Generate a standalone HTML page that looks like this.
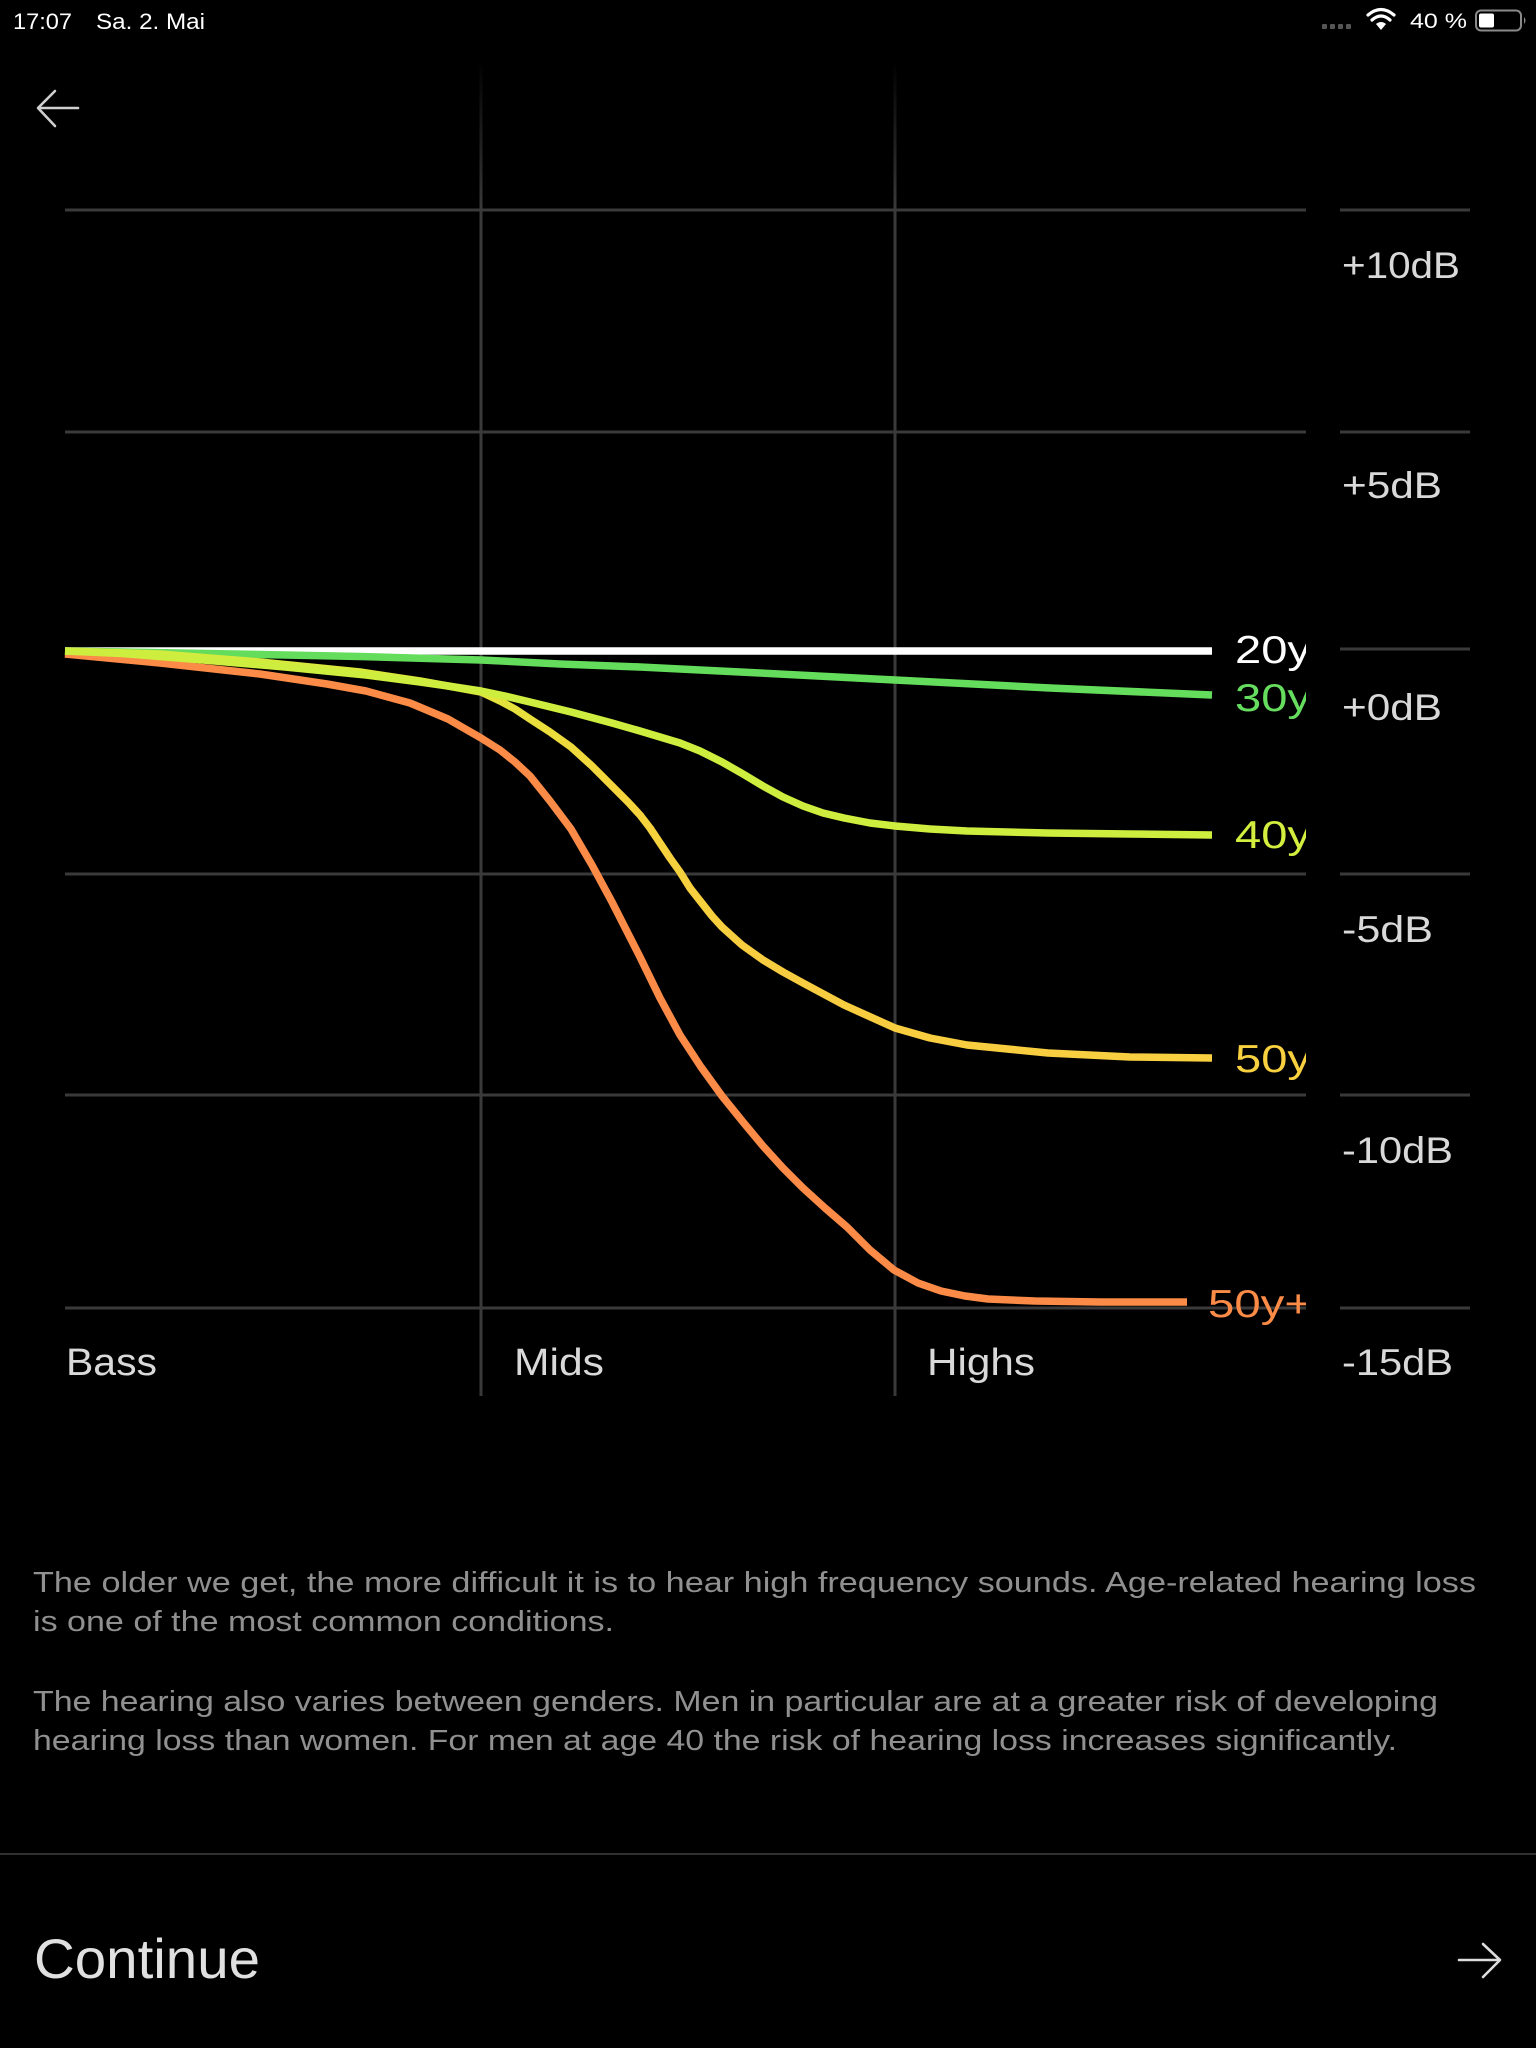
<!DOCTYPE html>
<html>
<head>
<meta charset="utf-8">
<style>
  html,body{margin:0;padding:0;background:#000;}
  body{width:1536px;height:2048px;overflow:hidden;}
  svg{display:block;}
  text{font-family:"Liberation Sans", sans-serif;}
</style>
</head>
<body>
<svg width="1536" height="2048" viewBox="0 0 1536 2048" xmlns="http://www.w3.org/2000/svg">
  <defs>
    <linearGradient id="vfade" gradientUnits="userSpaceOnUse" x1="0" y1="60" x2="0" y2="210">
      <stop offset="0" stop-color="#3a3a3a" stop-opacity="0"/>
      <stop offset="1" stop-color="#3a3a3a" stop-opacity="1"/>
    </linearGradient>
    <linearGradient id="g50" gradientUnits="userSpaceOnUse" x1="65" y1="0" x2="1212" y2="0">
      <stop offset="0" stop-color="#cdee3e"/>
      <stop offset="0.36" stop-color="#e0e63c"/>
      <stop offset="0.48" stop-color="#f5d43c"/>
      <stop offset="0.62" stop-color="#f8cc40"/>
      <stop offset="1" stop-color="#f8d040"/>
    </linearGradient>
    <clipPath id="chartclip">
      <rect x="0" y="0" width="1306" height="2048"/>
    </clipPath>
  </defs>

  <rect x="0" y="0" width="1536" height="2048" fill="#000"/>

  <!-- Status bar -->
  <text x="13" y="29" font-size="22" fill="#fff" textLength="59" lengthAdjust="spacingAndGlyphs">17:07</text>
  <text x="96" y="29" font-size="22" fill="#fff" textLength="109" lengthAdjust="spacingAndGlyphs">Sa. 2. Mai</text>
  <g fill="#555">
    <rect x="1322" y="24" width="5" height="5" rx="1"/>
    <rect x="1330" y="24" width="5" height="5" rx="1"/>
    <rect x="1338" y="24" width="5" height="5" rx="1"/>
    <rect x="1346" y="24" width="5" height="5" rx="1"/>
  </g>
  <g fill="none" stroke="#fff" stroke-width="3.2" stroke-linecap="round">
    <path d="M1368,15 Q1381,4 1394,15"/>
    <path d="M1372,20 Q1381,12 1390,20"/>
  </g>
  <path d="M1376,24 L1381,30 L1386,24 Q1381,20 1376,24 Z" fill="#fff"/>
  <text x="1410" y="28" font-size="21" fill="#fff" textLength="57" lengthAdjust="spacingAndGlyphs">40 %</text>
  <rect x="1476" y="10.5" width="45" height="20" rx="5" fill="none" stroke="#8a8a8a" stroke-width="2"/>
  <rect x="1479" y="13.5" width="15" height="14" rx="2" fill="#fff"/>
  <path d="M1524,17 Q1527,20.5 1524,24 Z" fill="#8a8a8a"/>

  <!-- Back arrow -->
  <g fill="none" stroke="#cfcfcf" stroke-width="2.6" stroke-linecap="round" stroke-linejoin="round">
    <path d="M39,108 L78,108"/>
    <path d="M55,91 L38,108 L55,126"/>
  </g>

  <!-- Vertical grid lines -->
  <rect x="479.5" y="60" width="3" height="1336" fill="url(#vfade)"/>
  <rect x="893.5" y="60" width="3" height="1336" fill="url(#vfade)"/>

  <!-- Horizontal grid lines -->
  <g fill="#3a3a3a">
    <rect x="65" y="208.5" width="1241" height="3"/>
    <rect x="1340" y="208.5" width="130" height="3"/>
    <rect x="65" y="430.5" width="1241" height="3"/>
    <rect x="1340" y="430.5" width="130" height="3"/>
    <rect x="1340" y="647.5" width="130" height="3"/>
    <rect x="65" y="872.5" width="1241" height="3"/>
    <rect x="1340" y="872.5" width="130" height="3"/>
    <rect x="65" y="1093.5" width="1241" height="3"/>
    <rect x="1340" y="1093.5" width="130" height="3"/>
    <rect x="65" y="1306.5" width="1241" height="3"/>
    <rect x="1340" y="1306.5" width="130" height="3"/>
  </g>

  <!-- dB labels -->
  <g font-size="37" fill="#d9d9d9">
    <text x="1342" y="278" textLength="118" lengthAdjust="spacingAndGlyphs">+10dB</text>
    <text x="1342" y="498" textLength="100" lengthAdjust="spacingAndGlyphs">+5dB</text>
    <text x="1342" y="720" textLength="100" lengthAdjust="spacingAndGlyphs">+0dB</text>
    <text x="1342" y="942" textLength="91" lengthAdjust="spacingAndGlyphs">-5dB</text>
    <text x="1342" y="1163" textLength="111" lengthAdjust="spacingAndGlyphs">-10dB</text>
    <text x="1342" y="1375" textLength="111" lengthAdjust="spacingAndGlyphs">-15dB</text>
  </g>

  <!-- X labels -->
  <g font-size="38" fill="#d9d9d9">
    <text x="66" y="1375" textLength="91" lengthAdjust="spacingAndGlyphs">Bass</text>
    <text x="514" y="1375" textLength="90" lengthAdjust="spacingAndGlyphs">Mids</text>
    <text x="927" y="1375" textLength="108" lengthAdjust="spacingAndGlyphs">Highs</text>
  </g>

  <!-- Curves -->
  <g fill="none" stroke-linecap="butt" stroke-linejoin="round">
    <polyline stroke="#ffffff" stroke-width="7.5" points="65,651 1212,651"/>
    <polyline stroke="#64dc5c" stroke-width="7.5" points="65,651 150,652.5 260,654.5 360,656.5 481,660 560,664 640,667 760,673 895,680 1050,688 1212,695"/>
    <polyline stroke="#fb8b47" stroke-width="7.5" points="65,654 160,663 260,674 327,684 366,691 410,703 448,719 481,738 500,750 515,762 530,776 550,801 571,829 592,865 612,902 640,957 660,998 680,1035 701,1067 722,1096 743,1122 763,1146 783,1168 803,1188 825,1208 847,1227 870,1250 894,1270 918,1283 941,1291 965,1296 988,1299 1035,1301 1100,1302 1187,1302"/>
    <polyline stroke="url(#g50)" stroke-width="7.5" points="65,651 160,654 260,662 360,672 420,681 448,686 481,692 500,701 515,709 530,719 550,732 571,747 592,766 612,786 628,802 640,815 650,828 660,843 670,858 680,872 690,888 701,902 712,916 722,927 742,945 763,960 783,972 803,983 844,1005 895,1028 930,1038 967,1045 1048,1053 1130,1057 1212,1058"/>
    <polyline stroke="#cdee3e" stroke-width="7.5" points="65,651 122,653.5 203,660 285,667 366,675 420,682 448,686 481,691 505,696 530,702 571,712 612,723 640,731 680,743 700,751 722,762 743,774 763,786 783,797 803,806 823,813 844,818 870,823 895,826 930,829 967,831 1048,833 1130,834 1212,835"/>
  </g>

  <!-- Curve labels -->
  <g font-size="39" clip-path="url(#chartclip)">
    <text x="1235" y="663" fill="#ffffff" textLength="76" lengthAdjust="spacingAndGlyphs">20y</text>
    <text x="1235" y="711" fill="#66dd5f" textLength="76" lengthAdjust="spacingAndGlyphs">30y</text>
    <text x="1235" y="848" fill="#d3ee3e" textLength="76" lengthAdjust="spacingAndGlyphs">40y</text>
    <text x="1235" y="1072" fill="#f8d040" textLength="76" lengthAdjust="spacingAndGlyphs">50y</text>
    <text x="1208" y="1317" fill="#fb8b47" textLength="104" lengthAdjust="spacingAndGlyphs">50y+</text>
  </g>

  <!-- Paragraphs -->
  <g font-size="29" fill="#909090">
    <text x="33" y="1592" textLength="1443" lengthAdjust="spacingAndGlyphs">The older we get, the more difficult it is to hear high frequency sounds. Age-related hearing loss</text>
    <text x="33" y="1631" textLength="581" lengthAdjust="spacingAndGlyphs">is one of the most common conditions.</text>
    <text x="33" y="1711" textLength="1405" lengthAdjust="spacingAndGlyphs">The hearing also varies between genders. Men in particular are at a greater risk of developing</text>
    <text x="33" y="1750" textLength="1364" lengthAdjust="spacingAndGlyphs">hearing loss than women. For men at age 40 the risk of hearing loss increases significantly.</text>
  </g>

  <!-- Divider -->
  <rect x="0" y="1853" width="1536" height="2" fill="#303030"/>

  <!-- Continue -->
  <text x="34" y="1978" font-size="56" fill="#e0e0e0" textLength="226" lengthAdjust="spacingAndGlyphs">Continue</text>
  <g fill="none" stroke="#dcdcdc" stroke-width="2.6" stroke-linecap="round" stroke-linejoin="round">
    <path d="M1459,1960 L1499,1960"/>
    <path d="M1483,1944 L1500,1960 L1483,1977"/>
  </g>
</svg>
</body>
</html>
